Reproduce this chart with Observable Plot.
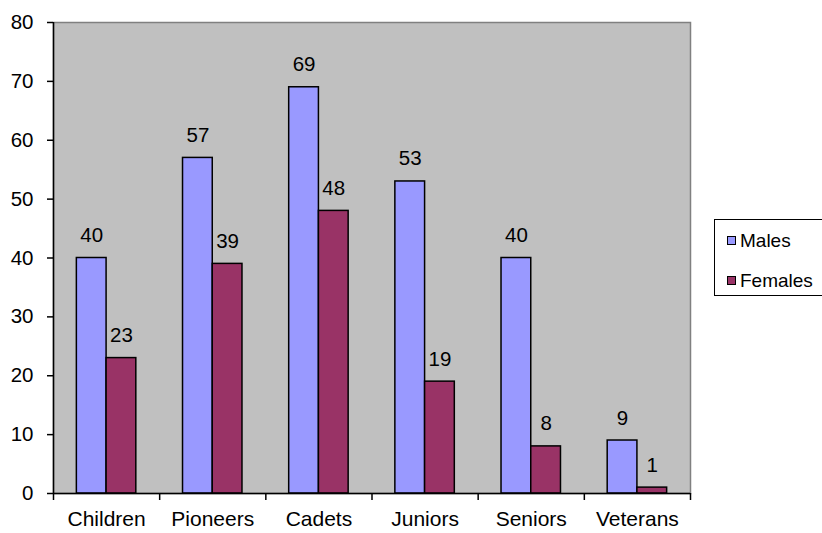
<!DOCTYPE html>
<html>
<head>
<meta charset="utf-8">
<script src="https://cdn.jsdelivr.net/npm/d3@7"></script>
<script src="https://cdn.jsdelivr.net/npm/@observablehq/plot@0.6"></script>
<style>
  html, body { margin: 0; padding: 0; background: #fff; }
  #wrap { position: relative; width: 822px; height: 533px; overflow: hidden; font-family: "Liberation Sans", Arial, sans-serif; }
  #legend { position: absolute; left: 714px; top: 219px; width: 120px; height: 77px; border: 1.5px solid #000; background: #fff; box-sizing: border-box; }
  .item { position: absolute; left: 12px; font-size: 19px; line-height: 19px; color: #000; display: flex; align-items: center; }
  .sw { width: 7px; height: 7px; border: 1px solid #000; margin-right: 4px; }
</style>
</head>
<body>
<div id="wrap"></div>
<script>
const categories = ["Children", "Pioneers", "Cadets", "Juniors", "Seniors", "Veterans"];
const males = [40, 57, 69, 53, 40, 9];
const females = [23, 39, 48, 19, 8, 1];
const yTicks = [0, 10, 20, 30, 40, 50, 60, 70, 80];
const seriesNames = ["Males", "Females"];
const seriesColors = ["#9999ff", "#993366"];

const rows = categories.map((c, i) => ({i, c, males: males[i], females: females[i]}));

const chart = Plot.plot({
  width: 822,
  height: 533,
  marginLeft: 53,
  marginRight: 132,
  marginTop: 22,
  marginBottom: 40,
  x: {domain: [0, categories.length], axis: null},
  y: {domain: [0, 80], axis: null},
  style: {fontFamily: "'Liberation Sans', Arial, sans-serif", fontSize: "20px", color: "#000", background: "#fff"},
  marks: [
    Plot.frame({fill: "#c0c0c0", stroke: "#808080", strokeWidth: 1.5}),
    Plot.rectY(rows, {x1: d => d.i + 0.22, x2: d => d.i + 0.5, y: "males", fill: seriesColors[0], stroke: "#000", strokeWidth: 1.5}),
    Plot.rectY(rows, {x1: d => d.i + 0.5, x2: d => d.i + 0.78, y: "females", fill: seriesColors[1], stroke: "#000", strokeWidth: 1.5}),
    Plot.text(rows, {x: d => d.i + 0.36, y: "males", text: d => String(d.males), lineAnchor: "bottom", dy: -16, fontSize: 20.5, fill: "#000"}),
    Plot.text(rows, {x: d => d.i + 0.64, y: "females", text: d => String(d.females), lineAnchor: "bottom", dy: -16, fontSize: 20.5, fill: "#000"}),
    Plot.ruleY([0], {stroke: "#000", strokeWidth: 1.5}),
    Plot.ruleX([0], {stroke: "#000", strokeWidth: 1.5}),
    Plot.axisY(yTicks, {tickSize: 6, tickPadding: 14, fontSize: 20.5, stroke: "#000", strokeWidth: 1.5}),
    Plot.axisX(d3.range(categories.length + 1), {tickSize: 7, tickFormat: () => "", stroke: "#000", strokeWidth: 1.5}),
    Plot.axisX(d3.range(categories.length).map(i => i + 0.5), {tickSize: 0, tickPadding: 18, fontSize: 21, tickFormat: d => categories[Math.floor(d)]})
  ]
});

const wrap = document.getElementById("wrap");
wrap.appendChild(chart);

const legend = document.createElement("div");
legend.id = "legend";
seriesNames.forEach((name, k) => {
  const item = document.createElement("div");
  item.className = "item";
  item.style.top = (k === 0 ? 11 : 51) + "px";
  const sw = document.createElement("span");
  sw.className = "sw";
  sw.style.background = seriesColors[k];
  item.appendChild(sw);
  item.appendChild(document.createTextNode(name));
  legend.appendChild(item);
});
wrap.appendChild(legend);
</script>
</body>
</html>
